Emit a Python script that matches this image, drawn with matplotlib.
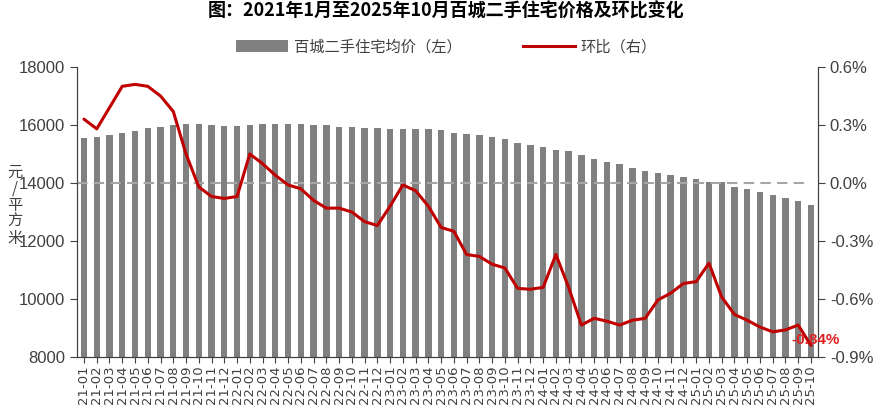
import matplotlib
matplotlib.use("Agg")
import matplotlib.pyplot as plt
from matplotlib.patches import Patch
from matplotlib.lines import Line2D

plt.rcParams['font.family'] = ['Liberation Sans', 'Noto Sans CJK SC', 'DejaVu Sans']

months = [f"{y:02d}-{m:02d}" for y in range(21, 26) for m in range(1, 13)][:58]

price = [15550, 15600, 15640, 15740, 15790, 15880, 15940, 16000, 16040, 16040,
         16000, 15980, 15980, 16000, 16030, 16050, 16050, 16030, 16000, 16000,
         15940, 15940, 15890, 15890, 15860, 15860, 15860, 15850, 15820, 15740,
         15700, 15650, 15570, 15500, 15390, 15310, 15250, 15140, 15100, 14970,
         14830, 14730, 14640, 14500, 14420, 14330, 14290, 14190, 14140, 14030,
         14030, 13870, 13790, 13690, 13590, 13490, 13390, 13240]

mom = [0.33, 0.28, 0.39, 0.50, 0.51, 0.50, 0.45, 0.37, 0.15, -0.02,
       -0.07, -0.08, -0.07, 0.15, 0.10, 0.04, -0.01, -0.03, -0.09, -0.13,
       -0.13, -0.15, -0.20, -0.22, -0.12, -0.01, -0.04, -0.12, -0.23, -0.25,
       -0.37, -0.38, -0.42, -0.44, -0.545, -0.55, -0.54, -0.37, -0.54, -0.735,
       -0.70, -0.715, -0.735, -0.71, -0.70, -0.605, -0.57, -0.52, -0.51, -0.415,
       -0.59, -0.68, -0.71, -0.745, -0.77, -0.76, -0.735, -0.84]

left_ticks = [8000, 10000, 12000, 14000, 16000, 18000]
right_ticks = [-0.9, -0.6, -0.3, 0.0, 0.3, 0.6]
right_labels = ["-0.9%", "-0.6%", "-0.3%", "0.0%", "0.3%", "0.6%"]

title = "图：2021年1月至2025年10月百城二手住宅价格及环比变化"
bar_label = "百城二手住宅均价（左）"
line_label = "环比（右）"

fig = plt.figure(figsize=(8.93, 4.15), dpi=100)
ax = fig.add_axes([0.0862, 0.1398, 0.8298, 0.6988])
ax2 = ax.twinx()

x = list(range(len(months)))
ax.bar(x, price, width=0.5, color='#808080', zorder=2)
ax.set_ylim(8000, 18000)
ax.set_xlim(-0.55, len(months) - 0.45)
ax.set_yticks(left_ticks)
ax.set_yticklabels([str(v) for v in left_ticks], fontsize=12, color='#404040')
ax.set_xticks(x)
ax.set_xticklabels(months, rotation=90, fontsize=9.5, color='#404040',
                   family=['DejaVu Sans'])
ax.tick_params(axis='x', length=4, pad=2, color='#404040')
ax.tick_params(axis='y', length=5, color='#404040')

ax2.axhline(0, xmin=0, xmax=0.985, color='#a6a6a6', linestyle=(0, (5, 3)),
            linewidth=1.5, zorder=1)
ax2.plot(x, mom, color='#c00000', linewidth=2.2, zorder=3,
         solid_joinstyle='round', solid_capstyle='round')
ax2.set_ylim(-0.9, 0.6)
ax2.set_yticks(right_ticks)
ax2.set_yticklabels(right_labels, fontsize=12, color='#404040')
ax2.tick_params(axis='y', length=5, color='#404040')
ax2.annotate(f"{mom[-1]:.2f}%", (x[-1], mom[-1]), xytext=(-14, 4),
             textcoords='offset points', color='#e02020', fontsize=11,
             fontweight='bold', va='center', ha='left', zorder=4)

for a in (ax, ax2):
    a.spines['top'].set_visible(False)
    for s in ('left', 'right', 'bottom'):
        a.spines[s].set_color('#404040')

fig.text(0.5, 0.995, title, ha='center', va='top', fontsize=13,
         fontweight='bold', family=['Noto Sans CJK SC', 'DejaVu Sans'])

fig.text(0.017, 0.505, "元\n/\n平\n方\n米", ha='center', va='center', fontsize=11,
         color='#404040', linespacing=0.95,
         family=['Noto Sans CJK SC', 'DejaVu Sans'])

handles = [Patch(facecolor='#808080', edgecolor='none'),
           Line2D([0], [0], color='#c00000', linewidth=2.2)]
fig.legend(handles, [bar_label, line_label], loc='center',
           bbox_to_anchor=(0.5, 0.887), ncol=2, frameon=False,
           prop={'family': ['Noto Sans CJK SC', 'DejaVu Sans'], 'size': 11},
           handlelength=3.4, handleheight=0.9, columnspacing=4.0,
           handletextpad=0.4, labelcolor='#404040')

fig.savefig("out.png", dpi=100)
